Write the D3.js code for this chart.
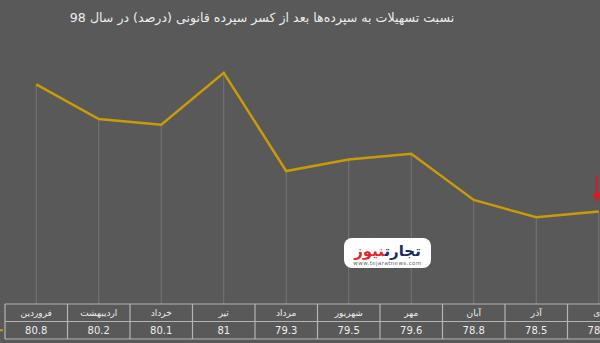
<!DOCTYPE html>
<html>
<head>
<meta charset="utf-8">
<script src="https://cdn.jsdelivr.net/npm/d3@7"></script>
<style>
  html, body { margin: 0; padding: 0; background: #595959; overflow: hidden; }
  svg { display: block; font-family: "DejaVu Sans", "Noto Sans", sans-serif; }
</style>
</head>
<body>
<div id="chart"></div>
<script>
// months (left to right as in the picture)
const months = ["فروردین", "اردیبهشت", "خرداد", "تیر", "مرداد", "شهریور", "مهر", "آبان", "آذر", "دی"];
const values = [80.8, 80.2, 80.1, 81, 79.3, 79.5, 79.6, 78.8, 78.5, 78.6];
const title = "نسبت تسهیلات به سپرده‌ها بعد از کسر سپرده قانونی (درصد) در سال 98";

const W = 600, H = 343;
const tableTop = 304, rowH = 17.5;

const svg = d3.select("#chart").append("svg")
  .attr("width", W)
  .attr("height", H);

svg.append("rect").attr("width", W).attr("height", H).attr("fill", "#595959");

// x : band per month, chart is cut on the right like the original
const x = d3.scaleBand()
  .domain(months)
  .range([5, 5 + months.length * 62.5]);
const cx = m => x(m) + x.bandwidth() / 2;

const y = d3.scaleLinear()
  .domain([77, 82])
  .range([tableTop, 15]);

const data = months.map((m, i) => ({ m: m, v: values[i] }));

// title
svg.append("text")
  .attr("x", 262)
  .attr("y", 22)
  .attr("text-anchor", "middle")
  .attr("direction", "rtl")
  .attr("fill", "#ececec")
  .style("font-size", "12.6px")
  .text(title);

// drop lines
svg.append("g")
  .selectAll("line")
  .data(data)
  .join("line")
    .attr("x1", d => cx(d.m)).attr("x2", d => cx(d.m))
    .attr("y1", d => y(d.v)).attr("y2", tableTop)
    .attr("stroke", "#767676")
    .attr("stroke-width", 1);

// the line
svg.append("path")
  .datum(data)
  .attr("fill", "none")
  .attr("stroke", "#c99b06")
  .attr("stroke-width", 2.5)
  .attr("stroke-linejoin", "miter")
  .attr("d", d3.line().x(d => cx(d.m)).y(d => y(d.v)));

// watermark logo
const logo = svg.append("g").attr("transform", "translate(344,238)");
logo.append("rect")
  .attr("width", 87).attr("height", 30).attr("rx", 8)
  .attr("fill", "#ffffff");
const lt = logo.append("text")
  .attr("x", 43.5).attr("y", 18)
  .attr("text-anchor", "middle")
  .attr("direction", "rtl")
  .style("font-size", "15px")
  .style("font-weight", "bold");
lt.append("tspan").attr("fill", "#1b2a63").text("تجارت");
lt.append("tspan").attr("fill", "#e0262b").text("نیوز");
logo.append("text")
  .attr("x", 43.5).attr("y", 26.5)
  .attr("text-anchor", "middle")
  .attr("fill", "#666")
  .style("font-size", "5.5px")
  .style("letter-spacing", "0.4px")
  .text("www.tejaratnews.com");

// red arrow at the last point
svg.append("line")
  .attr("x1", 597).attr("x2", 597)
  .attr("y1", 175).attr("y2", 195)
  .attr("stroke", "#e8141c")
  .attr("stroke-width", 1.5);
svg.append("path")
  .attr("d", "M593.5,193 L600.5,193 L597,203 Z")
  .attr("fill", "#e8141c");

// data table
const table = svg.append("g");
const border = "#b4b4b4";
[0, 1, 2].forEach(r => {
  table.append("line")
    .attr("x1", 5).attr("x2", W)
    .attr("y1", tableTop + r * rowH).attr("y2", tableTop + r * rowH)
    .attr("stroke", border).attr("stroke-width", 1.2);
});
table.selectAll(".sep")
  .data(months)
  .join("line")
    .attr("class", "sep")
    .attr("x1", d => x(d)).attr("x2", d => x(d))
    .attr("y1", tableTop).attr("y2", tableTop + 2 * rowH)
    .attr("stroke", border).attr("stroke-width", 1.2);

table.selectAll(".hd")
  .data(months)
  .join("text")
    .attr("class", "hd")
    .attr("x", d => cx(d))
    .attr("y", tableTop + 12)
    .attr("text-anchor", "middle")
    .attr("direction", "rtl")
    .attr("fill", "#eeeeee")
    .style("font-size", "9px")
    .text(d => d);

table.selectAll(".val")
  .data(data)
  .join("text")
    .attr("class", "val")
    .attr("x", d => cx(d.m))
    .attr("y", tableTop + rowH + 12.5)
    .attr("text-anchor", "middle")
    .attr("fill", "#eeeeee")
    .style("font-size", "10px")
    .text(d => d.v);

// legend key left of the value row
svg.append("line")
  .attr("x1", 0).attr("x2", 3)
  .attr("y1", tableTop + rowH * 1.5).attr("y2", tableTop + rowH * 1.5)
  .attr("stroke", "#c99b06").attr("stroke-width", 2);
</script>
</body>
</html>
